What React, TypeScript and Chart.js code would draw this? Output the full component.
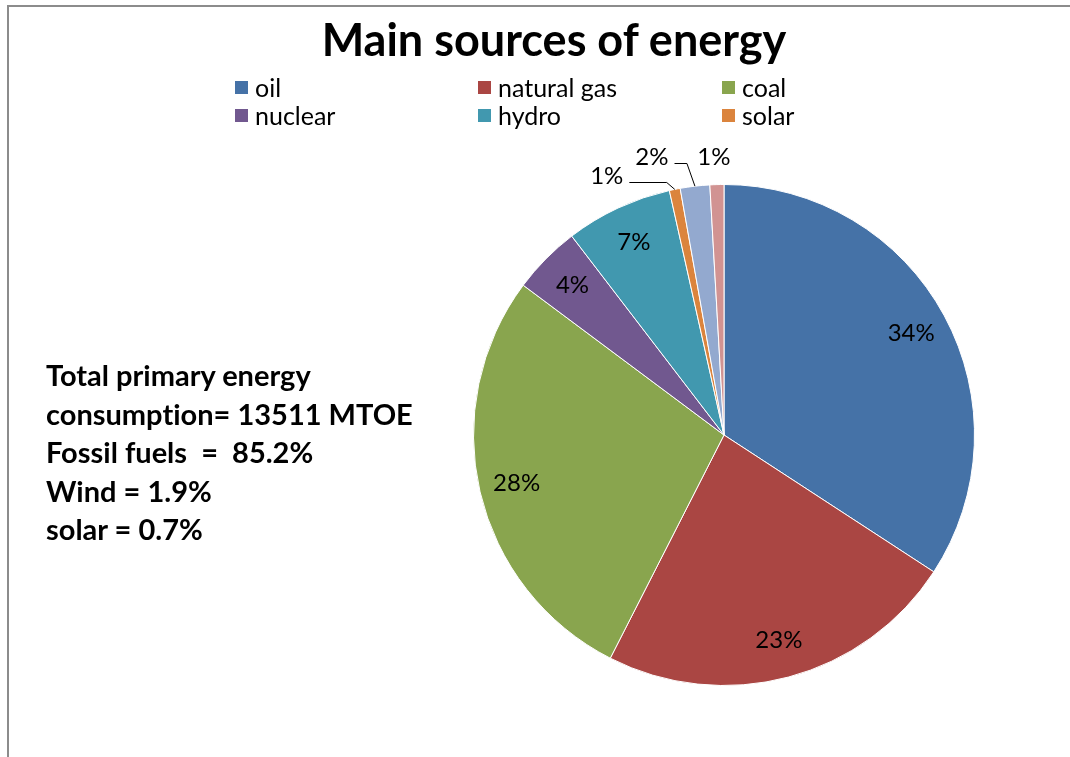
import React, { useEffect, useRef } from "react";
import { Chart, registerables } from "chart.js";

Chart.register(...registerables);

const title = "Main sources of energy";
const categories = ["oil", "natural gas", "coal", "nuclear", "hydro", "solar", "wind", "other"];
const shares = [34.2, 23.3, 27.7, 4.4, 6.9, 0.7, 1.9, 0.9];
const colors = ["#4572A7", "#AA4643", "#89A54E", "#71588F", "#4198AF", "#DB843D", "#93A9CF", "#D19392"];
const legendCategories = ["oil", "natural gas", "coal", "nuclear", "hydro", "solar"];
const noteLines = [
  "Total primary energy",
  "consumption= 13511 MTOE",
  "Fossil fuels  =  85.2%",
  "Wind = 1.9%",
  "solar = 0.7%",
];

// label placement tweaks for thin slices: [dx, dy, leader]
const outsideLabelOffsets: Record<number, [number, number, boolean]> = {
  5: [-68, -13, true],
  6: [-43, -29, true],
  7: [-3, -27, false],
};

const FONT = "Lato, 'Open Sans', sans-serif";

const sliceLabelPlugin = {
  id: "sliceLabels",
  afterDatasetsDraw(chart: any) {
    const ctx = chart.ctx as CanvasRenderingContext2D;
    const meta = chart.getDatasetMeta(0);
    const data = chart.data.datasets[0].data as number[];
    const total = data.reduce((a, b) => a + b, 0);
    ctx.save();
    ctx.font = `24px ${FONT}`;
    ctx.fillStyle = "#000";
    ctx.strokeStyle = "#000";
    ctx.lineWidth = 1;
    ctx.textAlign = "center";
    ctx.textBaseline = "middle";
    meta.data.forEach((el: any, i: number) => {
      const { x, y, startAngle, endAngle, outerRadius } = el.getProps(
        ["x", "y", "startAngle", "endAngle", "outerRadius"],
        true
      );
      const mid = (startAngle + endAngle) / 2;
      const text = Math.round((data[i] / total) * 100) + "%";
      const off = outsideLabelOffsets[i];
      if (!off) {
        const rr = outerRadius * 0.85;
        ctx.fillText(text, x + Math.cos(mid) * rr, y + Math.sin(mid) * rr);
      } else {
        const ax = x + Math.cos(mid) * outerRadius;
        const ay = y + Math.sin(mid) * outerRadius;
        const lx = ax + off[0];
        const ly = ay + off[1];
        ctx.fillText(text, lx, ly);
        if (off[2]) {
          const w = ctx.measureText(text).width;
          const sy = Math.round(ly + 6) + 0.5;
          ctx.beginPath();
          ctx.moveTo(lx + w / 2 + 6, sy);
          ctx.lineTo(ax - 8, sy);
          ctx.lineTo(ax, ay);
          ctx.stroke();
        }
      }
    });
    ctx.restore();
  },
};

function PieChart() {
  const ref = useRef<HTMLCanvasElement | null>(null);
  useEffect(() => {
    if (!ref.current) return;
    const chart = new Chart(ref.current, {
      type: "pie",
      data: {
        labels: categories,
        datasets: [
          {
            data: shares,
            backgroundColor: colors,
            borderColor: "#ffffff",
            borderWidth: 1,
          },
        ],
      },
      options: {
        responsive: false,
        animation: false,
        layout: { padding: { left: 473, right: 95, top: 184, bottom: 71 } },
        plugins: {
          legend: { display: false },
          title: { display: false },
          tooltip: { enabled: false },
        },
      },
      plugins: [sliceLabelPlugin],
    });
    return () => chart.destroy();
  }, []);
  return (
    <canvas
      ref={ref}
      width={1070}
      height={757}
      style={{ position: "absolute", left: 0, top: 0, width: 1070, height: 757 }}
    />
  );
}

const legendCols = [235, 478, 722];
const legendRows = [87, 115];

export default function App() {
  return (
    <div
      style={{
        position: "absolute",
        left: 0,
        top: 0,
        width: 1070,
        height: 757,
        overflow: "hidden",
        background: "#fff",
        fontFamily: FONT,
        fontVariantLigatures: "none",
      }}
    >
      <div
        style={{
          position: "absolute",
          left: 7,
          top: 5,
          width: 1100,
          height: 800,
          borderLeft: "2px solid #8c8c8c",
          borderTop: "2px solid #8c8c8c",
          boxSizing: "border-box",
        }}
      />
      <PieChart />
      <div
        style={{
          position: "absolute",
          left: 554,
          top: 17,
          transform: "translateX(-50%)",
          whiteSpace: "nowrap",
          fontSize: 45,
          fontWeight: 700,
          lineHeight: 1,
          color: "#000",
        }}
      >
        {title}
      </div>
      {legendCategories.map((name, i) => {
        const idx = categories.indexOf(name);
        return (
          <div
            key={name}
            style={{
              position: "absolute",
              left: legendCols[i % 3],
              top: legendRows[Math.floor(i / 3)] - 14,
              height: 28,
              display: "flex",
              alignItems: "center",
              whiteSpace: "nowrap",
              fontSize: 25,
              lineHeight: "28px",
              color: "#000",
            }}
          >
            <span
              style={{
                display: "inline-block",
                width: 13,
                height: 13,
                background: colors[idx],
                marginRight: 7,
              }}
            />
            <span>{name}</span>
          </div>
        );
      })}
      <div
        style={{
          position: "absolute",
          left: 46,
          top: 356,
          fontSize: 29,
          fontWeight: 700,
          lineHeight: "38.5px",
          color: "#000",
          whiteSpace: "pre",
        }}
      >
        {noteLines.map((l) => (
          <div key={l}>{l}</div>
        ))}
      </div>
    </div>
  );
}
